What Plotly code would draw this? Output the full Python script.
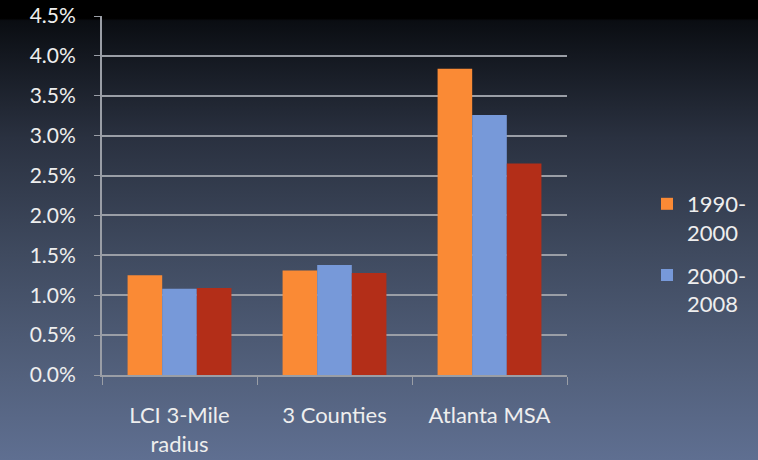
import base64
import plotly.graph_objects as go

# Average annual growth rate by area and period (percent)
categories = ["LCI 3-Mile<br>radius", "3 Counties", "Atlanta MSA"]
series_names = ["1990-<br>2000", "2000-<br>2008", "2008-2013"]
growth_1990_2000 = [1.25, 1.31, 3.84]
growth_2000_2008 = [1.08, 1.38, 3.26]
growth_third = [1.09, 1.28, 2.65]
tick_values = [0.0, 0.5, 1.0, 1.5, 2.0, 2.5, 3.0, 3.5, 4.0, 4.5]
tick_labels = [f"{v:.1f}%" for v in tick_values]

colors = ["#FA8A35", "#7799D9", "#B32E18"]
show_in_legend = [True, True, False]

W, H = 758, 460
L, R, T, B = 102, 191, 16, 85
pw, ph = W - L - R, H - T - B

# Dark slate vertical gradient for the page background
svg = f"""<svg xmlns='http://www.w3.org/2000/svg' width='{W}' height='{H}' preserveAspectRatio='none'>
<defs><linearGradient id='g' x1='0' y1='0' x2='0' y2='1'>
<stop offset='0' stop-color='#000000'/>
<stop offset='0.04' stop-color='#000000'/>
<stop offset='0.045' stop-color='#0a0d12'/>
<stop offset='0.3' stop-color='#2a3140'/>
<stop offset='0.55' stop-color='#3f4a5f'/>
<stop offset='0.82' stop-color='#53617d'/>
<stop offset='1' stop-color='#5f6f91'/>
</linearGradient></defs>
<rect width='{W}' height='{H}' fill='url(#g)'/></svg>"""
bg_uri = "data:image/svg+xml;base64," + base64.b64encode(svg.encode()).decode()

fig = go.Figure()
for i, (name, vals, col, leg) in enumerate(zip(series_names,
                                               [growth_1990_2000, growth_2000_2008, growth_third],
                                               colors, show_in_legend)):
    fig.add_trace(go.Bar(x=categories, y=vals, name=name, marker_color=col,
                         marker_line_width=0, showlegend=leg, legendgroup=f"g{i}"))

font_family = "Lato, 'Open Sans', sans-serif"
text_color = "#eeeeee"
fig.update_layout(
    width=W, height=H,
    margin=dict(l=L, r=R, t=T, b=B, pad=0, autoexpand=False),
    paper_bgcolor="#2a3140",
    plot_bgcolor="rgba(0,0,0,0)",
    barmode="group", bargap=0.33, bargroupgap=0,
    font=dict(family=font_family, size=21, color=text_color),
    legend=dict(x=(647 - L) / pw, xanchor="left", y=(H - B - 183) / ph, yanchor="top",
                valign="top", bgcolor="rgba(0,0,0,0)",
                font=dict(size=22, color=text_color), tracegroupgap=11),
    images=[dict(source=bg_uri, xref="paper", yref="paper",
                 x=-L / pw, y=(ph + T) / ph, sizex=W / pw, sizey=H / ph,
                 xanchor="left", yanchor="top", sizing="stretch", layer="below")],
)
fig.update_yaxes(range=[0, 4.5], tickvals=tick_values, ticktext=tick_labels,
                 showgrid=True, gridcolor="#9a9ea6", gridwidth=2,
                 showline=True, linecolor="#9a9ea6", linewidth=2,
                 ticks="outside", ticklen=6, tickcolor="#9a9ea6",
                 ticklabelstandoff=14, zeroline=False, automargin=False,
                 tickfont=dict(size=21, color=text_color))
fig.update_xaxes(showline=True, linecolor="#9a9ea6", linewidth=2,
                 ticks="outside", tickson="boundaries", ticklen=8, tickcolor="#9a9ea6",
                 automargin=False,
                 tickfont=dict(size=22, color=text_color), ticklabelstandoff=20)

fig.write_html("out.html",
               post_script="document.body.style.margin='0';"
                           "document.body.style.overflow='hidden';")
